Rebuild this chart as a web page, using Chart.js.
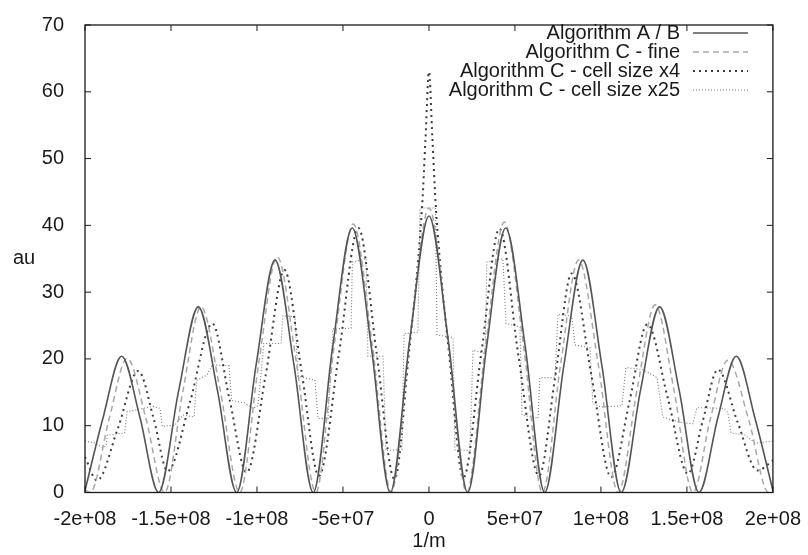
<!DOCTYPE html>
<html>
<head>
<meta charset="utf-8">
<script src="https://cdn.jsdelivr.net/npm/chart.js@4/dist/chart.umd.min.js"></script>
<style>
  html, body { margin: 0; padding: 0; background: #fff; }
  #wrap { width: 808px; height: 555px; }
</style>
</head>
<body>
<div id="wrap"><canvas id="chart" width="808" height="555"></canvas></div>
<script>
// x values are read in units of 1e7 (1/m)
const X_UNIT = 1e7;

const labels = [
  "Algorithm A / B",
  "Algorithm C - fine",
  "Algorithm C - cell size x4",
  "Algorithm C - cell size x25",
];

const abX = [-20, -18.95, -17.87, -16.8, -15.72, -14.55, -13.41, -12.3, -11.18, -10.05, -8.95, -7.85, -6.73, -5.6, -4.46, -3.35, -2.25, -1.12, 0,
  1.12, 2.25, 3.35, 4.46, 5.6, 6.73, 7.85, 8.95, 10.05, 11.18, 12.3, 13.41, 14.55, 15.7, 16.8, 17.87, 18.95, 20];
const abY = [0.3, 11.2, 20.4, 11.2, 0, 15.3, 27.8, 15.3, 0, 19.1, 34.8, 19.1, 0, 21.8, 39.6, 21.8, 0, 22.8, 41.4,
  22.8, 0, 21.8, 39.6, 21.8, 0, 19.1, 34.8, 19.1, 0, 15.3, 27.8, 15.3, 0, 11.2, 20.4, 11.2, 0.3];

const fineX = [-20, -19.7, -18.6, -17.55, -16.45, -15.37, -14.3, -13.25, -12.15, -11.0, -9.9, -8.82, -7.7, -6.58, -5.5, -4.4, -3.3, -2.19, -1.1, 0,
  1.1, 2.19, 3.3, 4.38, 5.5, 6.6, 7.65, 8.7, 9.85, 11.0, 12.1, 13.16, 14.25, 15.35, 16.35, 17.38, 18.6, 19.75, 20];
const fineY = [0.4, 0, 11, 20.1, 11, 0, 15.3, 27.8, 15.5, 0, 19.3, 35.3, 19.3, 0, 22.2, 40.2, 22.2, 0, 23.2, 42.6,
  23.2, 0, 22.2, 40.5, 22, 0, 19.1, 34.8, 19.1, 0, 15.4, 28.1, 15.3, 0, 10.9, 19.8, 10.8, 0, 0.3];

const x4X = [-20, -19.3, -18.1, -16.9, -16.0, -15.2, -13.9, -12.6, -11.6, -10.6, -9.5, -8.4, -7.4, -6.4, -5.25, -4.1, -3.05, -2.0, -1.2, -0.4, -0.2, 0,
  0.2, 0.4, 1.2, 2.0, 3.05, 4.1, 5.2, 6.4, 7.35, 8.3, 9.45, 10.6, 11.65, 12.7, 13.9, 15.06, 15.9, 16.8, 17.95, 19.1, 20];
const x4Y = [5.3, 1.8, 9.5, 18.2, 11, 3.2, 13.5, 25.3, 14, 3.0, 17.5, 33.3, 18, 2.5, 20.5, 39.6, 21, 2.0, 20, 42.8, 53, 63,
  53, 42.8, 20, 2.2, 21, 39.5, 20.5, 2.5, 17.5, 32.8, 17.5, 2.3, 13.5, 25.2, 14, 2.8, 10.5, 18.4, 10.5, 3.3, 4.8];

const x25X = [-20, -19.42, -18.95, -18.78, -18.7, -17.7, -17.55, -16.8, -16.05, -15.64, -15.5, -14.77, -14.3, -13.66, -13.5, -12.9, -12.6, -11.63,
  -11.47, -10.7, -10.23, -9.94, -9.6, -8.6, -8.49, -7.79, -7.62, -6.63, -6.45, -5.87, -5.58, -4.53, -4.45, -3.66, -3.55, -2.67, -2.5, -1.57,
  -1.45, -0.64, -0.52, 0.38, 0.47, 1.4, 1.51, 2.38, 2.56, 3.26, 3.37, 4.3, 4.48, 5.29, 5.41, 6.34, 6.45, 7.33, 7.5, 8.31, 8.49, 9.36,
  9.53, 10.0, 11.22, 11.45, 12.44, 13.26, 13.6, 14.6, 15.35, 15.58, 17.1, 17.38, 17.56, 18.37, 19.0, 20];
const x25Y = [7.7, 7.4, 6.7, 7.0, 8.6, 8.9, 12.1, 12.5, 12.9, 12.6, 9.9, 10.1, 11.6, 11.3, 16.8, 17.6, 19.1, 19.0,
  13.8, 13.4, 12.6, 13.0, 22.3, 22.3, 26.5, 26.3, 17.4, 16.8, 11.1, 11.1, 24.5, 24.6, 34.5, 35.0, 20.4, 20.4, 6.3, 6.4,
  23.8, 24.0, 42.6, 42.6, 23.6, 23.2, 6.4, 6.3, 21.3, 20.8, 34.5, 35.0, 25.3, 24.8, 11.6, 11.1, 17.2, 17.2, 26.7, 26.4, 22.1, 21.7,
  13.3, 12.8, 13.0, 18.7, 18.4, 17.2, 11.3, 10.5, 10.3, 12.7, 12.6, 12.0, 8.9, 8.6, 7.4, 7.7];

const xTicks = { min: -2e8, max: 2e8, step: 5e7 };
const yTicks = { min: 0, max: 70, step: 10 };

const FONT = "Liberation Sans";
const INK = "#1a1a1a";

function toPoints(xs, ys) {
  return xs.map((x, i) => ({ x: x * X_UNIT, y: ys[i] }));
}

function gnuplotNum(v) {
  if (v === 0) return "0";
  return v.toExponential().replace(/e([+-])(\d)$/, "e$10$2");
}

const frame = {
  id: "frame",
  afterDraw(chart) {
    const { ctx, chartArea: a, scales } = chart;
    ctx.save();
    ctx.strokeStyle = INK;
    ctx.lineWidth = 1.3;
    ctx.strokeRect(a.left, a.top, a.right - a.left, a.bottom - a.top);
    ctx.lineWidth = 1;
    ctx.beginPath();
    for (let v = xTicks.min; v <= xTicks.max; v += xTicks.step) {
      const px = scales.x.getPixelForValue(v);
      ctx.moveTo(px, a.bottom); ctx.lineTo(px, a.bottom - 6);
      ctx.moveTo(px, a.top); ctx.lineTo(px, a.top + 6);
    }
    for (let v = yTicks.min; v <= yTicks.max; v += yTicks.step) {
      const py = scales.y.getPixelForValue(v);
      ctx.moveTo(a.left, py); ctx.lineTo(a.left + 6, py);
      ctx.moveTo(a.right, py); ctx.lineTo(a.right - 6, py);
    }
    ctx.stroke();

    // axis titles
    ctx.fillStyle = INK;
    ctx.font = `20px "${FONT}"`;
    ctx.textAlign = "center";
    ctx.textBaseline = "middle";
    ctx.fillText("1/m", (a.left + a.right) / 2, 541);
    ctx.fillText("au", 24, (a.top + a.bottom) / 2);

    // legend: right aligned text, line sample after it
    ctx.textAlign = "right";
    chart.data.datasets.forEach((ds, i) => {
      const y = 33 + i * 19;
      ctx.fillStyle = INK;
      ctx.fillText(ds.label, 680, y);
      ctx.beginPath();
      ctx.strokeStyle = ds.borderColor;
      ctx.lineWidth = ds.borderWidth;
      ctx.setLineDash(ds.borderDash || []);
      ctx.moveTo(693, y);
      ctx.lineTo(748, y);
      ctx.stroke();
    });
    ctx.restore();
  },
};

Chart.defaults.font.family = FONT;
Chart.defaults.font.size = 20;
Chart.defaults.color = INK;

new Chart(document.getElementById("chart"), {
  type: "line",
  data: {
    datasets: [
      {
        label: labels[0],
        data: toPoints(abX, abY),
        borderColor: "#555555",
        borderWidth: 1.6,
        cubicInterpolationMode: "monotone",
      },
      {
        label: labels[1],
        data: toPoints(fineX, fineY),
        borderColor: "#a8a8a8",
        borderWidth: 1.5,
        borderDash: [6, 4],
        cubicInterpolationMode: "monotone",
      },
      {
        label: labels[2],
        data: toPoints(x4X, x4Y),
        borderColor: "#3c3c3c",
        borderWidth: 2,
        borderDash: [2, 4],
        cubicInterpolationMode: "monotone",
      },
      {
        label: labels[3],
        data: toPoints(x25X, x25Y),
        borderColor: "#7a7a7a",
        borderWidth: 1.1,
        borderDash: [1, 2],
        tension: 0,
      },
    ],
  },
  options: {
    responsive: false,
    animation: false,
    layout: { padding: { top: 14, right: 35, left: 0, bottom: 0 } },
    elements: { point: { radius: 0 } },
    plugins: { legend: { display: false }, tooltip: { enabled: false } },
    scales: {
      x: {
        type: "linear",
        min: xTicks.min,
        max: xTicks.max,
        grid: { display: false },
        border: { display: false },
        ticks: {
          stepSize: xTicks.step,
          maxRotation: 0,
          autoSkip: false,
          padding: 7,
          callback: (v) => gnuplotNum(v),
        },
        afterFit: (s) => { s.height = 62.5; },
      },
      y: {
        min: yTicks.min,
        max: yTicks.max,
        grid: { display: false },
        border: { display: false },
        ticks: { stepSize: yTicks.step, padding: 13 },
        afterFit: (s) => { s.width = 85; },
      },
    },
  },
  plugins: [frame],
});
</script>
</body>
</html>
